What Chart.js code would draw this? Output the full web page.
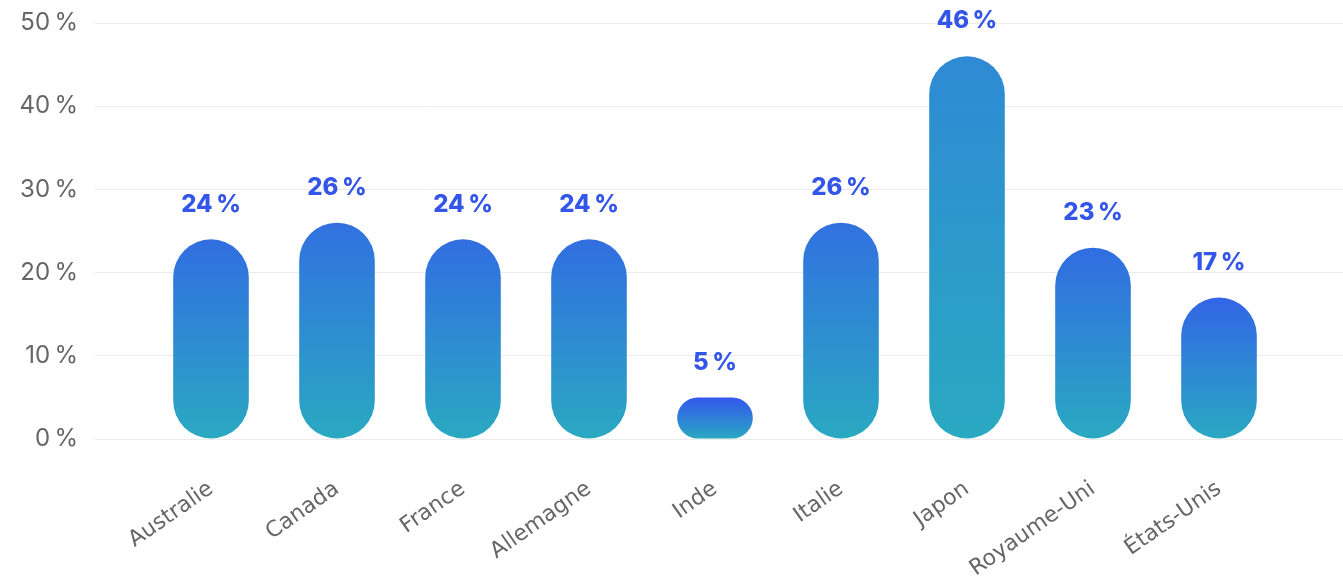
<!DOCTYPE html>
<html lang="fr">
<head>
<meta charset="UTF-8">
<title>Part par pays</title>
<style>
  html, body { margin: 0; padding: 0; background: #fff; }
  #wrap { width: 1343px; height: 583px; }
</style>
<script src="https://cdn.jsdelivr.net/npm/chart.js"></script>
</head>
<body>
<div id="wrap"><canvas id="chart" width="1343" height="583"></canvas></div>
<script>
const countries = ['Australie', 'Canada', 'France', 'Allemagne', 'Inde', 'Italie', 'Japon', 'Royaume-Uni', 'États-Unis'];
const shares = [24, 26, 24, 24, 5, 26, 46, 23, 17];
const yTicks = [0, 10, 20, 30, 40, 50];

const pct = v => v + '\u202f%';
const gridColor = '#ebebeb';

// short bars lean indigo at the top, tall ones lighter blue
function topColor(v) {
  const t = Math.min(v / 46, 1);
  const a = [52, 80, 240], b = [46, 138, 212];
  const c = a.map((x, i) => Math.round(x + (b[i] - x) * t));
  return `rgb(${c[0]},${c[1]},${c[2]})`;
}

function barFill(ctx) {
  const chart = ctx.chart;
  if (!chart.chartArea || ctx.type !== 'data') return '#2e7fd8';
  const y = chart.scales.y;
  const v = ctx.raw;
  const g = chart.ctx.createLinearGradient(0, y.getPixelForValue(0), 0, y.getPixelForValue(v));
  g.addColorStop(0, '#2aa9c1');
  g.addColorStop(1, topColor(v));
  return g;
}

const valueLabels = {
  id: 'valueLabels',
  afterDatasetsDraw(chart) {
    const ctx = chart.ctx;
    const meta = chart.getDatasetMeta(0);
    ctx.save();
    ctx.font = '800 24px Inter, sans-serif';
    ctx.fillStyle = '#3356e8';
    ctx.textAlign = 'center';
    ctx.textBaseline = 'middle';
    meta.data.forEach((bar, i) => {
      ctx.fillText(pct(shares[i]), bar.x, bar.y - 35);
    });
    ctx.restore();
  }
};

new Chart(document.getElementById('chart'), {
  type: 'bar',
  data: {
    labels: countries,
    datasets: [{
      data: shares,
      backgroundColor: barFill,
      borderRadius: 100,
      borderSkipped: false,
      barPercentage: 0.6,
      categoryPercentage: 1
    }]
  },
  options: {
    responsive: false,
    animation: false,
    layout: { padding: { top: 23 } },
    plugins: { legend: { display: false }, tooltip: { enabled: false } },
    scales: {
      x: {
        grid: { display: false, drawTicks: false },
        border: { display: false },
        ticks: {
          color: '#666',
          font: { family: 'DejaVu Sans', size: 22 },
          minRotation: 35,
          maxRotation: 35,
          padding: 37
        },
        afterFit(scale) { scale.height = 144; }
      },
      y: {
        min: 0,
        max: 50,
        afterBuildTicks(scale) { scale.ticks = yTicks.map(v => ({ value: v })); },
        grid: { color: gridColor, lineWidth: 1, drawTicks: true, tickLength: 53 },
        border: { display: false },
        ticks: {
          color: '#666',
          font: { family: 'Inter', size: 24 },
          padding: 17,
          callback: v => pct(v)
        },
        afterFit(scale) {
          scale.width = 148;
          scale.paddingTop = 0;
          scale.paddingBottom = 0;
        }
      },
      y2: {
        position: 'right',
        min: 0,
        max: 50,
        afterBuildTicks(scale) { scale.ticks = yTicks.map(v => ({ value: v })); },
        grid: { color: gridColor, lineWidth: 1, drawOnChartArea: false, drawTicks: true, tickLength: 61 },
        border: { display: false },
        ticks: { display: false },
        afterFit(scale) {
          scale.width = 61;
          scale.paddingTop = 0;
          scale.paddingBottom = 0;
        }
      }
    }
  },
  plugins: [valueLabels]
});
</script>
</body>
</html>
